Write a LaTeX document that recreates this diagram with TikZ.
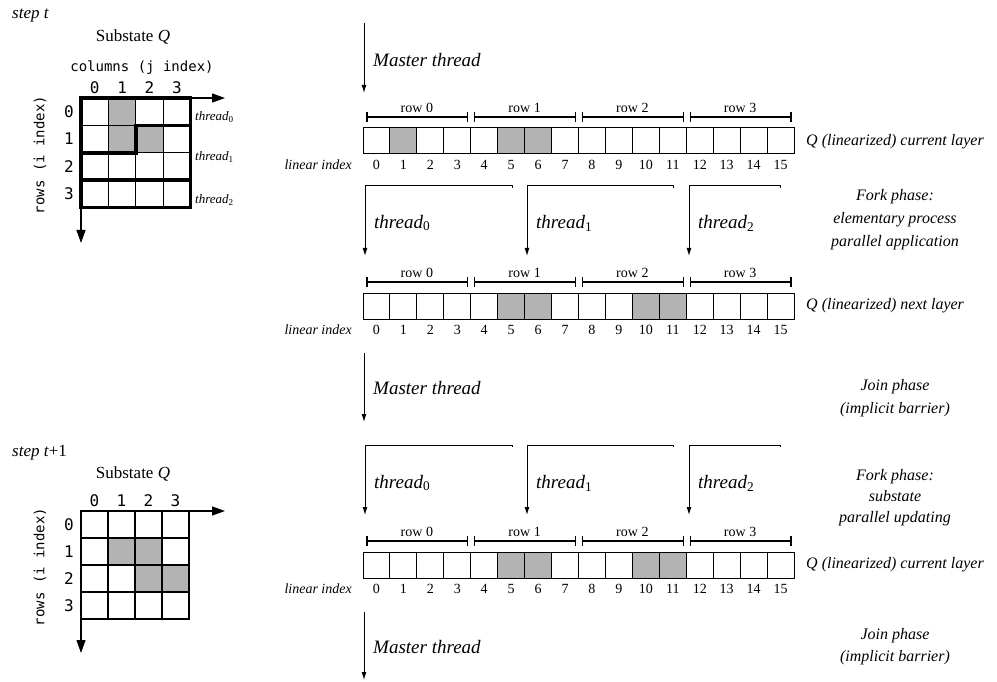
\documentclass[tikz,border=0pt]{standalone}
\usepackage{fontspec}
\setmainfont{Liberation Serif}
\newfontfamily\monofam{DejaVu Sans Mono}
\usetikzlibrary{arrows.meta}
\definecolor{cellgray}{RGB}{179,179,179}
\tikzset{
  cellline/.style={draw=black,line width=1pt},
  gridline/.style={draw=black,line width=1.2pt},
  thickline/.style={draw=black,line width=3.6pt,line cap=rect},
  axisarrow/.style={line width=1.2pt,-{Triangle[length=13pt,width=9pt]}},
  flow/.style={line width=1pt,-{Latex[length=8pt,width=5pt]}},
  bracketline/.style={line width=1.2pt},
  forkline/.style={line width=1pt},
  idxlbl/.style={inner sep=0pt,font=\fontsize{14}{16}\selectfont},
  rowlbl/.style={inner sep=0pt,font=\fontsize{14}{16}\selectfont},
  linidx/.style={inner sep=0pt,anchor=east,font=\fontsize{14}{16}\selectfont\itshape},
  monolbl/.style={inner sep=0pt,font=\fontsize{14}{16}\selectfont\monofam},
  gridnum/.style={inner sep=0pt,font=\fontsize{16}{18}\selectfont\monofam},
  bigital/.style={inner sep=0pt,anchor=west,font=\fontsize{19}{22}\selectfont\itshape},
  sidetxt/.style={inner sep=0pt,font=\fontsize{16}{19}\selectfont\itshape},
  smallthr/.style={inner sep=0pt,anchor=west,font=\fontsize{13}{15}\selectfont\itshape},
  titletxt/.style={inner sep=0pt,font=\fontsize{17}{20}\selectfont},
}
\newcommand\thr[1]{thread\textsubscript{\upshape #1}}
% linearized array: #1 top y, #2 gray cells, #3 name prefix
\newcommand\linarray[3]{%
  \foreach \g in {#2} {\fill[cellgray] ({363+\g*26.94},#1) rectangle ++(26.94,26);}
  \foreach \i in {0,...,15} {\draw[cellline] ({363+\i*26.94},#1) rectangle ++(26.94,26);}
  \foreach \i in {0,...,15} {\node[idxlbl] (#3-i\i) at ({363+(\i+0.5)*26.94},{#1+37}) {\i};}
  \foreach \r in {0,...,3} {%
    \draw[bracketline] ({363+\r*107.75+4},{#1-16}) -- ({363+\r*107.75+4},{#1-6});
    \draw[bracketline] ({363+(\r+1)*107.75-3},{#1-16}) -- ({363+(\r+1)*107.75-3},{#1-6});
    \draw[bracketline] ({363+\r*107.75+4},{#1-11}) -- ({363+(\r+1)*107.75-3},{#1-11});
    \node[rowlbl] (#3-r\r) at ({363+(\r+0.5)*107.75},{#1-20}) {row \r};
  }
  \node[linidx] (#3-lin) at (352,{#1+37}) {linear index};
}
% fork: #1 horizontal y, #2 arrow end y, #3 label y, #4 prefix
\newcommand\forkblock[4]{%
  \foreach \xs/\xe/\k in {365/512/0,527/673/1,689/780/2} {%
    \coordinate (#4-s\k) at (\xs,#1);
    \coordinate (#4-e\k) at (\xs,#2);
    \coordinate (#4-h\k) at (\xe,#1);
    \draw[forkline] ([yshift=-2pt]#4-h\k) -- (#4-h\k) -- (#4-s\k);
    \draw[flow] (#4-s\k) -- (#4-e\k);
    \node[bigital] (#4-t\k) at ({\xs+9},#3) {\thr{\k}};
  }
}
\begin{document}
\begin{tikzpicture}[x=1pt,y=-1pt]
\useasboundingbox (0,0) rectangle (997,682);
\fill[white] (0,0) rectangle (997,682);

% ---------- step t : left grid ----------
\node[titletxt,anchor=west] (stept) at (12,16) {\itshape step t};
\node[titletxt] (subQ1) at (133,37) {Substate \textit{Q}};
\node[monolbl] (cols1) at (142,68) {columns (j index)};
\node[monolbl,rotate=90] (rows1) at (40,155) {rows (i index)};
\foreach \c in {0,...,3} {\node[gridnum] (c1-\c) at ({81+(\c+0.5)*27.4},88) {\c};}
\foreach \r in {0,...,3} {\node[gridnum] (r1-\r) at (69,{98+(\r+0.5)*27.4}) {\r};}
\foreach \c/\r in {1/0,1/1,2/1} {\fill[cellgray] ({81+\c*27.4},{98+\r*27.4}) rectangle ++(27.4,27.4);}
\foreach \k in {1,2,3} {%
  \draw[gridline] ({81+\k*27.4},98) -- ({81+\k*27.4},207.6);
  \draw[gridline] (81,{98+\k*27.4}) -- (190.6,{98+\k*27.4});
}
\draw[thickline] (81,98) rectangle (190.6,207.6);
\draw[thickline] (81,152.8) -- (135.8,152.8) -- (135.8,125.4) -- (190.6,125.4);
\draw[thickline] (81,180.2) -- (190.6,180.2);
\coordinate (o1) at (81,98);
\coordinate (ox1) at (225,98);
\coordinate (oy1) at (81,243);
\draw[axisarrow] (o1) -- (ox1);
\draw[axisarrow] (o1) -- (oy1);
\node[smallthr] (st0) at (195,117) {\thr{0}};
\node[smallthr] (st1) at (195,157) {\thr{1}};
\node[smallthr] (st2) at (195,200) {\thr{2}};

% ---------- step t+1 : left grid ----------
\node[titletxt,anchor=west] (stept1) at (12,453) {\textit{step t}+1};
\node[titletxt] (subQ2) at (133,474) {Substate \textit{Q}};
\node[monolbl,rotate=90] (rows2) at (40,567) {rows (i index)};
\foreach \c in {0,...,3} {\node[gridnum] (c2-\c) at ({81+(\c+0.5)*27},501) {\c};}
\foreach \r in {0,...,3} {\node[gridnum] (r2-\r) at (69,{511+(\r+0.5)*27}) {\r};}
\foreach \c/\r in {1/1,2/1,2/2,3/2} {\fill[cellgray] ({81+\c*27},{511+\r*27}) rectangle ++(27,27);}
\foreach \c in {0,...,3} {\foreach \r in {0,...,3} {\draw[gridline] ({81+\c*27},{511+\r*27}) rectangle ++(27,27);}}
\coordinate (o2) at (81,511);
\coordinate (ox2) at (225,511);
\coordinate (oy2) at (81,653);
\draw[axisarrow] (o2) -- (ox2);
\draw[axisarrow] (o2) -- (oy2);

% ---------- right: flow ----------
\coordinate (m1a) at (364,23);
\coordinate (m1b) at (364,93);
\draw[flow] (m1a) -- (m1b);
\node[bigital] (m1t) at (373,60) {Master thread};

\linarray{128}{1,5,6}{A}
\node[sidetxt,anchor=west] (qA) at (806,142) {Q (linearized) current layer};

\forkblock{186}{256}{223}{F}
\node[sidetxt,align=center,font=\fontsize{16}{23}\selectfont\itshape] (forkA) at (895,220) {Fork phase:\\elementary process\\parallel application};

\linarray{293}{5,6,10,11}{B}
\node[sidetxt,anchor=west] (qB) at (806,306) {Q (linearized) next layer};

\coordinate (m2a) at (364,353);
\coordinate (m2b) at (364,422);
\draw[flow] (m2a) -- (m2b);
\node[bigital] (m2t) at (373,388) {Master thread};
\node[sidetxt,align=center,font=\fontsize{16}{23}\selectfont\itshape] (joinA) at (895,398.5) {Join phase\\(implicit barrier)};

\forkblock{445}{515}{483}{G}
\node[sidetxt,align=center,font=\fontsize{16}{21}\selectfont\itshape] (forkB) at (895,498) {Fork phase:\\substate\\parallel updating};

\linarray{552}{5,6,10,11}{C}
\node[sidetxt,anchor=west] (qC) at (806,565) {Q (linearized) current layer};

\coordinate (m3a) at (364,612);
\coordinate (m3b) at (364,680);
\draw[flow] (m3a) -- (m3b);
\node[bigital] (m3t) at (373,647) {Master thread};
\node[sidetxt,align=center,font=\fontsize{16}{22}\selectfont\itshape] (joinB) at (895,647) {Join phase\\(implicit barrier)};
\end{tikzpicture}
\end{document}
